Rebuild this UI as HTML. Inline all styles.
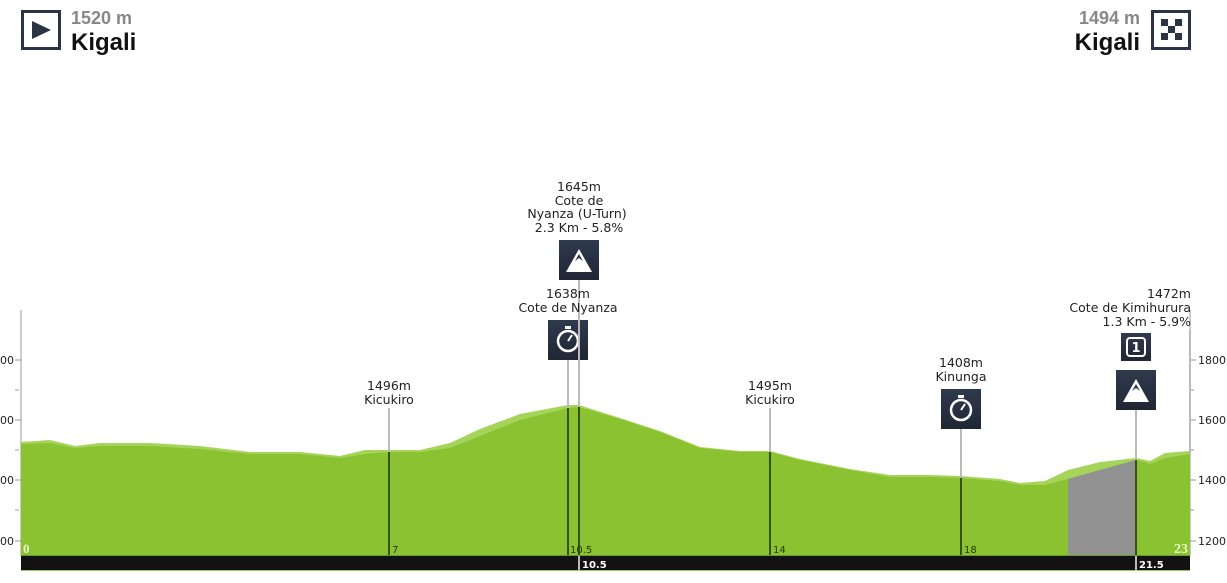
<!DOCTYPE html>
<html><head><meta charset="utf-8"><style>
html,body{margin:0;padding:0;background:#fff;}
svg{display:block;font-family:"DejaVu Sans","Liberation Sans",sans-serif;}
</style></head><body>
<svg width="1227" height="583" viewBox="0 0 1227 583" xmlns="http://www.w3.org/2000/svg">
<!-- header -->
<rect x="22.5" y="11.5" width="37" height="37" fill="#fff" stroke="#2b3445" stroke-width="3"/>
<polygon points="32,21 32,39 51,30" fill="#2b3445"/>
<text x="71" y="24" font-size="18" font-weight="bold" fill="#888" font-family="Liberation Sans,sans-serif">1520 m</text>
<text x="71" y="50" font-size="24" font-weight="bold" fill="#111" font-family="Liberation Sans,sans-serif">Kigali</text>
<text x="1140" y="24" font-size="18" font-weight="bold" fill="#888" text-anchor="end" font-family="Liberation Sans,sans-serif">1494 m</text>
<text x="1140" y="50" font-size="24" font-weight="bold" fill="#111" text-anchor="end" font-family="Liberation Sans,sans-serif">Kigali</text>
<rect x="1152.5" y="11.5" width="37" height="37" fill="#fff" stroke="#2b3445" stroke-width="3"/>
<g fill="#2b3445">
<rect x="1161" y="19" width="7" height="7"/><rect x="1175" y="19" width="7" height="7"/>
<rect x="1168" y="26" width="7" height="7"/>
<rect x="1161" y="33" width="7" height="7"/><rect x="1175" y="33" width="7" height="7"/>
</g>
<!-- axes -->
<line x1="21" y1="310" x2="21" y2="556" stroke="#ccc" stroke-width="2"/>
<line x1="1190" y1="310" x2="1190" y2="556" stroke="#ccc" stroke-width="2"/>
<g stroke="#999" stroke-width="1">
<line x1="15" y1="360" x2="21" y2="360"/><line x1="15" y1="390" x2="19" y2="390"/>
<line x1="15" y1="420" x2="21" y2="420"/><line x1="15" y1="450" x2="19" y2="450"/>
<line x1="15" y1="480" x2="21" y2="480"/><line x1="15" y1="510" x2="19" y2="510"/>
<line x1="15" y1="541" x2="21" y2="541"/>
<line x1="1190" y1="360" x2="1196" y2="360"/><line x1="1190" y1="390" x2="1194" y2="390"/>
<line x1="1190" y1="420" x2="1196" y2="420"/><line x1="1190" y1="450" x2="1194" y2="450"/>
<line x1="1190" y1="480" x2="1196" y2="480"/><line x1="1190" y1="510" x2="1194" y2="510"/>
<line x1="1190" y1="541" x2="1196" y2="541"/>
</g>
<g font-size="11" fill="#222">
<text x="0" y="364">00</text><text x="0" y="424">00</text><text x="0" y="484">00</text><text x="0" y="545">00</text>
<text x="1198" y="364">1800</text><text x="1198" y="424">1600</text><text x="1198" y="484">1400</text><text x="1198" y="545">1200</text>
</g>
<!-- profile -->
<path d="M21,442 L50,440 L75,446 L100,443 L150,443 L200,446 L250,452 L300,452 L340,456 L365,450 L389,450 L420,450 L450,443 L480,429 L520,414 L568,405 L579,405 L620,418 L660,431 L700,447 L740,451 L770,451 L800,459 L850,469 L890,475 L930,475 L961,476 L1000,479 L1020,483 L1045,481 L1068,470 L1100,462 L1136,458 L1150,461 L1165,453 L1190,451 L1190,556 L21,556 Z" fill="#a6d45a"/>
<path d="M21,444 L50,443 L75,448 L100,446 L150,446 L200,449 L250,454 L300,454 L340,458 L365,454 L389,452 L420,452 L450,448 L480,436 L520,420 L568,408 L579,407 L620,419 L660,432 L700,448 L740,452 L770,452 L800,460 L850,470 L890,477 L930,477 L961,478 L1000,481 L1020,485 L1045,485 L1068,479 L1100,470 L1136,460 L1150,464 L1165,458 L1190,454 L1190,556 L21,556 Z" fill="#8bc232"/>
<path d="M1068,479 L1100,470 L1136,460 L1136,556 L1068,556 Z" fill="#929292"/>
<line x1="21" y1="555.5" x2="1190" y2="555.5" stroke="#6b9a2a" stroke-width="1"/>
<rect x="21" y="556" width="1169" height="14" fill="#121212"/>
<line x1="21" y1="570.5" x2="1190" y2="570.5" stroke="#9cc86a"/>
<!-- markers -->
<g stroke="#bbb" stroke-width="2">
<line x1="389" y1="408" x2="389" y2="452"/>
<line x1="568" y1="360" x2="568" y2="408"/>
<line x1="579" y1="280" x2="579" y2="407"/>
<line x1="770" y1="408" x2="770" y2="452"/>
<line x1="961" y1="429" x2="961" y2="478"/>
<line x1="1136" y1="410" x2="1136" y2="460"/>
<line x1="1190" y1="330" x2="1190" y2="454"/>
<line x1="579" y1="556" x2="579" y2="570"/>
<line x1="1136" y1="556" x2="1136" y2="570"/>
</g>
<g stroke="#35520f" stroke-width="2">
<line x1="389" y1="452" x2="389" y2="555"/>
<line x1="568" y1="408" x2="568" y2="555"/>
<line x1="579" y1="407" x2="579" y2="555"/>
<line x1="770" y1="452" x2="770" y2="555"/>
<line x1="961" y1="478" x2="961" y2="555"/>
<line x1="1136" y1="460" x2="1136" y2="555"/>
</g>
<g font-size="10" fill="#1e3a08">
<text x="392" y="553">7</text><text x="570" y="553">10.5</text><text x="773" y="553">14</text><text x="964" y="553">18</text>
</g>
<text x="23" y="553" font-size="13" font-weight="bold" fill="#e8f5c8" font-family="Liberation Serif,serif">0</text>
<text x="1188" y="553" font-size="14" font-weight="bold" fill="#e8f5c8" text-anchor="end" font-family="Liberation Serif,serif">23</text>
<g font-size="10" font-weight="bold" fill="#fff">
<text x="582" y="568">10.5</text><text x="1139" y="568">21.5</text>
</g>
<!-- labels -->
<g font-size="12.5" fill="#222" text-anchor="middle">
<text x="579" y="191">1645m</text><text x="579" y="205">Cote de</text>
<text x="577" y="218">Nyanza (U-Turn)</text><text x="579" y="232">2.3 Km - 5.8%</text>
<text x="568" y="298">1638m</text><text x="568" y="312">Cote de Nyanza</text>
<text x="389" y="390">1496m</text><text x="389" y="404">Kicukiro</text>
<text x="770" y="390">1495m</text><text x="770" y="404">Kicukiro</text>
<text x="961" y="367">1408m</text><text x="961" y="381">Kinunga</text>
</g>
<g font-size="12.5" fill="#222" text-anchor="end">
<text x="1191" y="298">1472m</text><text x="1191" y="312">Cote de Kimihurura</text><text x="1191" y="326">1.3 Km - 5.9%</text>
</g>
<!-- icons -->
<defs>
<linearGradient id="ig" x1="0" y1="0" x2="0" y2="1"><stop offset="0" stop-color="#2f3a4d"/><stop offset="1" stop-color="#1f2735"/></linearGradient>
</defs>
<g>
<rect x="559" y="240" width="40" height="40" fill="url(#ig)"/>
<polygon points="579,249 566,272 592,272" fill="#fff"/>
<polygon points="579,254 575,261 579,258 583,261" fill="#2b3445"/>
</g>
<g>
<rect x="548" y="320" width="40" height="40" fill="url(#ig)"/>
<circle cx="568" cy="341" r="10" fill="none" stroke="#fff" stroke-width="2.5"/>
<rect x="565" y="326" width="6" height="3" fill="#fff"/>
<line x1="568" y1="341" x2="572" y2="335" stroke="#fff" stroke-width="2"/>
</g>
<line x1="579" y1="320" x2="579" y2="360" stroke="#bbb" stroke-width="2"/>
<g>
<rect x="941" y="389" width="40" height="40" fill="url(#ig)"/>
<circle cx="961" cy="410" r="10" fill="none" stroke="#fff" stroke-width="2.5"/>
<rect x="958" y="395" width="6" height="3" fill="#fff"/>
<line x1="961" y1="410" x2="965" y2="404" stroke="#fff" stroke-width="2"/>
</g>
<g>
<rect x="1121" y="333" width="30" height="28" fill="url(#ig)"/>
<rect x="1127" y="338" width="18" height="18" rx="3" fill="none" stroke="#fff" stroke-width="2"/>
<text x="1136" y="352" font-size="13" font-weight="bold" fill="#fff" text-anchor="middle">1</text>
</g>
<g>
<rect x="1116" y="370" width="40" height="40" fill="url(#ig)"/>
<polygon points="1136,379 1123,402 1149,402" fill="#fff"/>
<polygon points="1136,384 1132,391 1136,388 1140,391" fill="#2b3445"/>
</g>
</svg>
</body></html>
